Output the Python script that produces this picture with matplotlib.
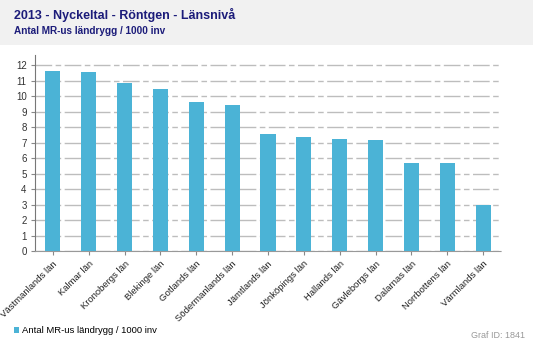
import matplotlib.pyplot as plt
from matplotlib.patches import Rectangle

plt.rcParams['font.family'] = ['Liberation Sans', 'DejaVu Sans']

lan = ['Västmanlands län', 'Kalmar län', 'Kronobergs län', 'Blekinge län',
       'Gotlands län', 'Södermanlands län', 'Jämtlands län', 'Jönköpings län',
       'Hallands län', 'Gävleborgs län', 'Dalarnas län', 'Norrbottens län',
       'Värmlands län']
varden = [11.61, 11.55, 10.84, 10.45, 9.61, 9.42, 7.55, 7.35, 7.23, 7.16,
          5.68, 5.68, 2.97]
yticks = list(range(0, 13))

W, H = 533, 345
fig = plt.figure(figsize=(W / 100, H / 100), dpi=100)

# header band
fig.patches.append(Rectangle((0, 1 - 45 / H), 1, 45 / H, transform=fig.transFigure,
                             facecolor='#f1f1f1', edgecolor='none', zorder=0))
fig.text(14 / W, 1 - 15 / H, '2013 - Nyckeltal - Röntgen - Länsnivå', fontsize=9,
         fontweight='bold', color='#1c1c7a', va='center')
fig.text(14 / W, 1 - 31 / H, 'Antal MR-us ländrygg / 1000 inv', fontsize=7.2,
         fontweight='bold', color='#1c1c7a', va='center')

ax = fig.add_axes([35 / W, 1 - 251 / H, 466 / W, 196 / H])
x = range(len(lan))
ax.bar(x, varden, width=0.42, color='#4bb3d6', zorder=3, label='Antal MR-us ländrygg / 1000 inv')
ax.set_xlim(-0.5, len(lan) - 0.5)
ax.set_ylim(0, 12.65)
ax.set_yticks(yticks)
ax.set_yticklabels([str(t) for t in yticks], fontsize=7, color='#333333')
ax.yaxis.grid(True, color='#bdbdbd', linewidth=1.0, linestyle=(0, (12, 2.5, 4, 2.5)), zorder=0)
ax.set_xticks(list(x))
ax.set_xticklabels(lan, rotation=45, ha='right', rotation_mode='anchor', fontsize=6.8,
                   color='#222222')
ax.tick_params(axis='x', length=3, color='#888888', pad=3)
ax.tick_params(axis='y', length=3, color='#888888', pad=3)
for s in ['top', 'right']:
    ax.spines[s].set_visible(False)
ax.spines['left'].set_color('#777777')
ax.spines['bottom'].set_color('#999999')
ax.spines['bottom'].set_linestyle((0, (1, 1)))

fig.legend(loc='lower left', bbox_to_anchor=(10 / W, 6 / H), frameon=False, fontsize=6.8,
           handlelength=0.6, handleheight=0.6, handletextpad=0.3, borderaxespad=0)
fig.text(1 - 8 / W, 1 - 335 / H, 'Graf ID: 1841', fontsize=6.5, color='#999999',
         ha='right', va='center')

fig.savefig('out.png', dpi=100)
